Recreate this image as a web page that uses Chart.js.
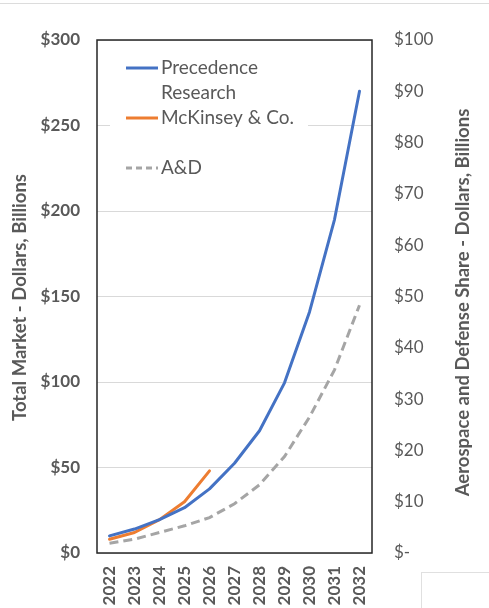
<!DOCTYPE html>
<html>
<head>
<meta charset="utf-8">
<script src="https://cdn.jsdelivr.net/npm/chart.js@4/dist/chart.umd.min.js"></script>
<style>
  html, body { margin: 0; padding: 0; background: #ffffff; }
  #wrap { position: relative; width: 489px; height: 608px; overflow: hidden; }
  #topline { position: absolute; left: 0; top: 3px; width: 489px; height: 1px; background: #dcdcdc; }
  #cornerbox { position: absolute; left: 421px; top: 572px; width: 80px; height: 60px; border: 1px solid #e0e0e0; background: #fff; }
  canvas { position: absolute; left: 0; top: 0; }
</style>
</head>
<body>
<div id="wrap">
  <canvas id="chart" width="489" height="608"></canvas>
  <div id="topline"></div>
  <div id="cornerbox"></div>
</div>
<script>
// Years on the horizontal axis
const years = ['2022','2023','2024','2025','2026','2027','2028','2029','2030','2031','2032'];
// Total market forecasts, $ billions (left axis)
const precedence = [10, 14, 19.5, 26.5, 37.5, 52.5, 71.5, 99.5, 141, 195, 270];
const mckinsey = [8, 12, 19.5, 30, 48, null, null, null, null, null, null];
// Aerospace & defense share, $ billions (right axis)
const aandd = [1.9, 2.7, 4.0, 5.3, 6.9, 9.6, 13.3, 18.8, 26.5, 35.7, 48.3];
// Axis tick values
const leftTicks = [0, 50, 100, 150, 200, 250, 300];
const rightTicks = [0, 10, 20, 30, 40, 50, 60, 70, 80, 90, 100];

const FONT = 'Lato, "Open Sans", sans-serif';
const TEXT = '#595959';
const BLUE = '#4472C4', ORANGE = '#ED7D31', GREY = '#A5A5A5';

// Legend box inside the plot (white panel hides gridlines behind it), plus plot frame
const frameAndLegend = {
  id: 'frameAndLegend',
  beforeDatasetsDraw(chart) {
    const { ctx, chartArea: a } = chart;
    ctx.save();
    ctx.fillStyle = '#ffffff';
    ctx.fillRect(110, 50, 198, 140);
    const rows = [
      { y: 68, color: BLUE, dash: [], lines: ['Precedence', 'Research'] },
      { y: 118, color: ORANGE, dash: [], lines: ['McKinsey & Co.'] },
      { y: 168, color: GREY, dash: [6, 4], lines: ['A&D'] }
    ];
    ctx.font = '19px ' + FONT;
    ctx.textBaseline = 'middle';
    ctx.textAlign = 'left';
    rows.forEach(r => {
      ctx.beginPath();
      ctx.setLineDash(r.dash);
      ctx.strokeStyle = r.color;
      ctx.lineWidth = 3;
      ctx.moveTo(126, r.y);
      ctx.lineTo(158, r.y);
      ctx.stroke();
      ctx.setLineDash([]);
      ctx.fillStyle = TEXT;
      r.lines.forEach((t, i) => ctx.fillText(t, 161, r.y + i * 25));
    });
    ctx.strokeStyle = '#262626';
    ctx.lineWidth = 1.5;
    ctx.strokeRect(a.left, a.top, a.right - a.left, a.bottom - a.top);
    ctx.restore();
  },
  afterDraw(chart) {
    const { ctx, chartArea: a } = chart;
    const mid = (a.top + a.bottom) / 2;
    ctx.save();
    ctx.fillStyle = TEXT;
    ctx.font = 'bold 18.5px ' + FONT;
    ctx.textAlign = 'center';
    ctx.textBaseline = 'middle';
    ctx.translate(20, mid + 1);
    ctx.rotate(-Math.PI / 2);
    ctx.fillText('Total Market - Dollars, Billions', 0, 0);
    ctx.restore();
    ctx.save();
    ctx.fillStyle = TEXT;
    ctx.font = 'bold 18.5px ' + FONT;
    ctx.textAlign = 'center';
    ctx.textBaseline = 'middle';
    ctx.translate(463, mid + 6);
    ctx.rotate(-Math.PI / 2);
    ctx.fillText('Aerospace and Defense Share - Dollars, Billions', 0, 0);
    ctx.restore();
  }
};

new Chart(document.getElementById('chart'), {
  type: 'line',
  data: {
    labels: years,
    datasets: [
      { label: 'Precedence Research', data: precedence, borderColor: BLUE, borderWidth: 3, yAxisID: 'y', pointRadius: 0, tension: 0, borderJoinStyle: 'round', borderCapStyle: 'round' },
      { label: 'McKinsey & Co.', data: mckinsey, borderColor: ORANGE, borderWidth: 3, yAxisID: 'y', pointRadius: 0, tension: 0, borderJoinStyle: 'round', borderCapStyle: 'round', spanGaps: false },
      { label: 'A&D', data: aandd, borderColor: GREY, borderWidth: 3, borderDash: [9, 5], yAxisID: 'y1', pointRadius: 0, tension: 0 }
    ]
  },
  options: {
    responsive: false,
    animation: false,
    events: [],
    layout: { padding: { top: 40, left: 0, right: 0, bottom: 0 } },
    plugins: { legend: { display: false }, tooltip: { enabled: false } },
    scales: {
      x: {
        offset: true,
        grid: { display: false, drawTicks: false },
        border: { display: false },
        ticks: { autoSkip: false, minRotation: 90, maxRotation: 90, padding: 13, color: TEXT, font: { family: FONT, size: 17, weight: 'bold' } },
        afterFit(s) { s.height = 55; }
      },
      y: {
        position: 'left',
        min: 0, max: 300,
        afterBuildTicks(s) { s.ticks = leftTicks.map(v => ({ value: v })); },
        grid: { color: '#d9d9d9', lineWidth: 1, drawTicks: false },
        border: { display: false },
        ticks: { padding: 17, color: TEXT, font: { family: FONT, size: 17, weight: 'bold' }, callback: v => '$' + v },
        afterFit(s) { s.width = 97; }
      },
      y1: {
        position: 'right',
        min: 0, max: 100,
        afterBuildTicks(s) { s.ticks = rightTicks.map(v => ({ value: v })); },
        grid: { display: false, drawTicks: false },
        border: { display: false },
        ticks: { padding: 22, color: TEXT, font: { family: FONT, size: 17 }, callback: v => v === 0 ? '$-' : '$' + v },
        afterFit(s) { s.width = 117; }
      }
    }
  },
  plugins: [frameAndLegend]
});
</script>
</body>
</html>
